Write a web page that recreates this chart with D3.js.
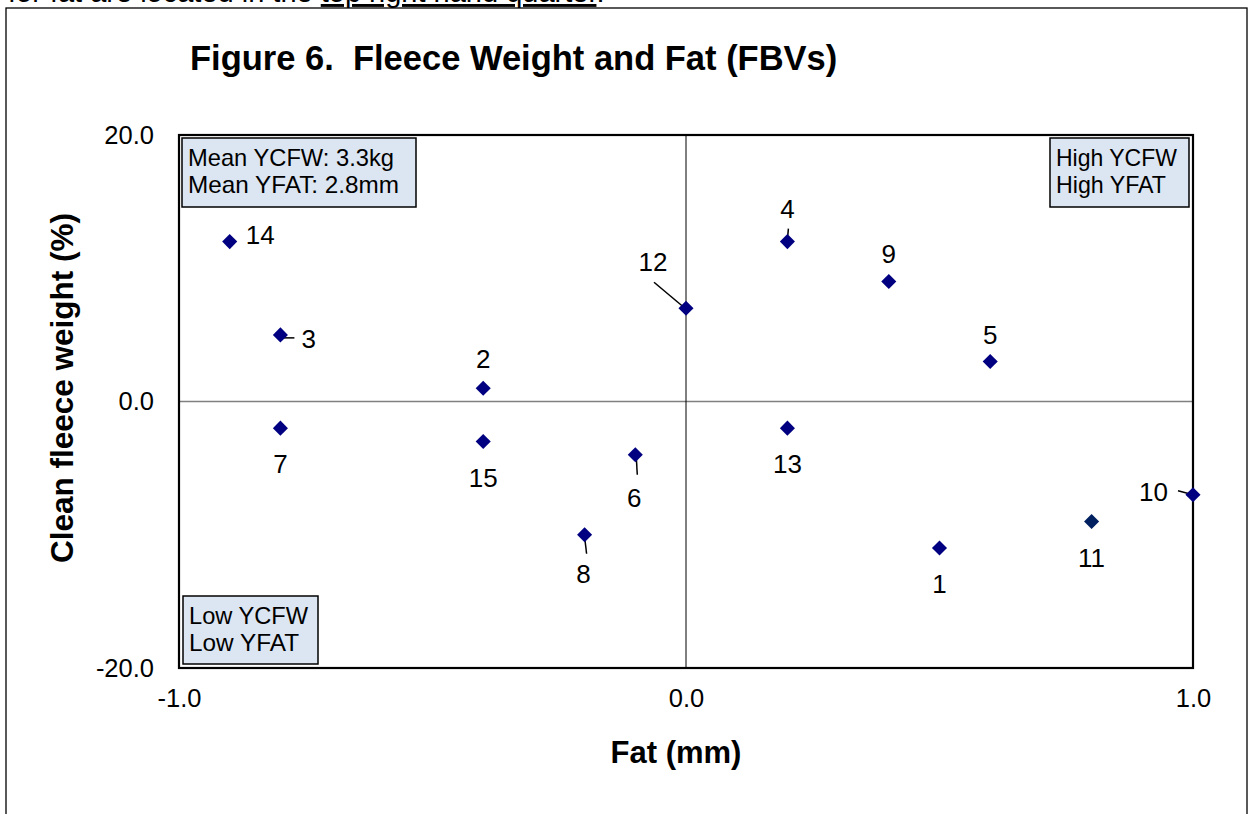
<!DOCTYPE html>
<html lang="en">
  <head>
    <meta charset="UTF-8" />
    <title>Figure 6</title>
    <style>
      body { margin: 0; background: #fff; }
      svg { display: block; font-family: "Liberation Sans", Arial, sans-serif; }
    </style>
  </head>
  <body>
    <div id="chart"></div>
    <script src="https://cdn.jsdelivr.net/npm/d3@7"></script>
    <script>
      // sire ids and their FBVs
      var sires = ["1", "2", "3", "4", "5", "6", "7", "8", "9", "10", "11", "12", "13", "14", "15"];
      var fatValues = [0.5, -0.4, -0.8, 0.2, 0.6, -0.1, -0.8, -0.2, 0.4, 1.0, 0.8, 0.0, 0.2, -0.9, -0.4];
      var cfwValues = [-11, 1, 5, 12, 3, -4, -2, -10, 9, -7, -9, 7, -2, 12, -3];
      var xTicks = [-1, 0, 1];
      var yTicks = [-20, 0, 20];

      // label offset from its point (px): [dx, dy, anchor, leader [x1, y1, x2, y2] or null]
      var labelPlace = {
        "1": [0, 36],
        "2": [0, -30],
        "3": [21, 4, "start", [1, 3, 14, 3]],
        "4": [0, -33, null, [0, -2, 1, -13]],
        "5": [0, -27],
        "6": [-1, 43, null, [1, 3, 2, 20]],
        "7": [0, 35],
        "8": [-1, 39, null, [0, 2, 2, 19]],
        "9": [0, -28],
        "10": [-25, -3, "end", [-15, -4, 0, 0]],
        "11": [0, 36],
        "12": [-33, -47, null, [-32, -26, -1, 0]],
        "13": [0, 35],
        "14": [16, -7, "start"],
        "15": [0, 36]
      };

      var W = 1249, H = 814;
      var svg = d3.select("#chart").append("svg").attr("width", W).attr("height", H);

      // cut-off text line from the page above
      var pageLine = svg.append("text").attr("x", 8).attr("y", 2).attr("font-size", 29).attr("fill", "#000");
      pageLine.append("tspan").text("for fat are located in the ");
      pageLine.append("tspan").attr("text-decoration", "underline").text("top right hand quarter");
      pageLine.append("tspan").text(".");

      // outer chart frame
      svg.append("rect")
        .attr("x", 6).attr("y", 8).attr("width", 1241).attr("height", 820)
        .attr("fill", "none").attr("stroke", "#000").attr("stroke-width", 1.3);

      svg.append("text")
        .attr("x", 190).attr("y", 70)
        .attr("font-size", 34.5).attr("font-weight", "bold")
        .attr("xml:space", "preserve")
        .text("Figure 6.  Fleece Weight and Fat (FBVs)");

      var left = 179, right = 1193, plotTop = 135, plotBottom = 668;
      var x = d3.scaleLinear().domain([-1, 1]).range([left, right]);
      var y = d3.scaleLinear().domain([-20, 20]).range([plotBottom, plotTop]);
      var fmt = function (d) { return d3.format(".1f")(d).replace("\u2212", "-"); };

      // zero lines
      svg.append("line")
        .attr("x1", left).attr("x2", right).attr("y1", y(0)).attr("y2", y(0))
        .attr("stroke", "#808080").attr("stroke-width", 1.6);
      svg.append("line")
        .attr("x1", x(0)).attr("x2", x(0)).attr("y1", plotTop).attr("y2", plotBottom)
        .attr("stroke", "#000").attr("stroke-width", 1);

      // plot border
      svg.append("rect")
        .attr("x", left).attr("y", plotTop).attr("width", right - left).attr("height", plotBottom - plotTop)
        .attr("fill", "none").attr("stroke", "#000").attr("stroke-width", 2.2);

      // axes
      var yAxis = svg.append("g")
        .attr("transform", "translate(" + left + ",0)")
        .call(d3.axisLeft(y).tickValues(yTicks).tickSize(0).tickPadding(25).tickFormat(fmt));
      yAxis.select(".domain").remove();
      yAxis.selectAll("text").attr("font-size", 25.5).attr("font-family", "Liberation Sans, Arial, sans-serif").attr("fill", "#000");

      var xAxis = svg.append("g")
        .attr("transform", "translate(0," + plotBottom + ")")
        .call(d3.axisBottom(x).tickValues(xTicks).tickSize(0).tickPadding(21).tickFormat(fmt));
      xAxis.select(".domain").remove();
      xAxis.selectAll("text").attr("font-size", 25.5).attr("font-family", "Liberation Sans, Arial, sans-serif").attr("fill", "#000");

      svg.append("text")
        .attr("x", 676).attr("y", 763)
        .attr("text-anchor", "middle").attr("font-size", 31).attr("font-weight", "bold")
        .text("Fat (mm)");
      svg.append("text")
        .attr("transform", "translate(73,388) rotate(-90)")
        .attr("text-anchor", "middle").attr("font-size", 31.5).attr("font-weight", "bold")
        .text("Clean fleece weight (%)");

      // quadrant note boxes
      function noteBox(bx, by, bw, bh, lines, widths) {
        var g = svg.append("g");
        g.append("rect")
          .attr("x", bx).attr("y", by).attr("width", bw).attr("height", bh)
          .attr("fill", "#DCE6F2").attr("stroke", "#000").attr("stroke-width", 1.5);
        lines.forEach(function (t, i) {
          g.append("text")
            .attr("x", bx + 6).attr("y", by + 28 + i * 27)
            .attr("font-size", 24)
            .attr("textLength", widths[i]).attr("lengthAdjust", "spacingAndGlyphs")
            .text(t);
        });
      }
      noteBox(182, 138, 234, 69, ["Mean YCFW: 3.3kg", "Mean YFAT: 2.8mm"], [206, 211]);
      noteBox(1050, 138, 139, 69, ["High YCFW", "High YFAT"], [121, 110]);
      noteBox(183, 596, 135, 68, ["Low YCFW", "Low YFAT"], [119, 110]);

      var data = sires.map(function (s, i) {
        return { id: s, fat: fatValues[i], cfw: cfwValues[i] };
      });

      // leader lines
      svg.append("g").selectAll("line")
        .data(data.filter(function (d) { return labelPlace[d.id][3]; }))
        .enter().append("line")
        .attr("x1", function (d) { return x(d.fat) + labelPlace[d.id][3][0]; })
        .attr("y1", function (d) { return y(d.cfw) + labelPlace[d.id][3][1]; })
        .attr("x2", function (d) { return x(d.fat) + labelPlace[d.id][3][2]; })
        .attr("y2", function (d) { return y(d.cfw) + labelPlace[d.id][3][3]; })
        .attr("stroke", "#000").attr("stroke-width", 1.5);

      // diamonds
      svg.append("g").selectAll("path")
        .data(data).enter().append("path")
        .attr("transform", function (d) { return "translate(" + x(d.fat) + "," + y(d.cfw) + ")"; })
        .attr("d", d3.symbol().type(d3.symbolDiamond2).size(145))
        .attr("fill", function (d) { return d.id === "11" ? "#002060" : "#000080"; });

      // point labels
      svg.append("g").selectAll("text")
        .data(data).enter().append("text")
        .attr("x", function (d) { return x(d.fat) + labelPlace[d.id][0]; })
        .attr("y", function (d) { return y(d.cfw) + labelPlace[d.id][1]; })
        .attr("dy", "0.36em")
        .attr("text-anchor", function (d) { return labelPlace[d.id][2] || "middle"; })
        .attr("font-size", 26)
        .text(function (d) { return d.id; });
    </script>
  </body>
</html>
